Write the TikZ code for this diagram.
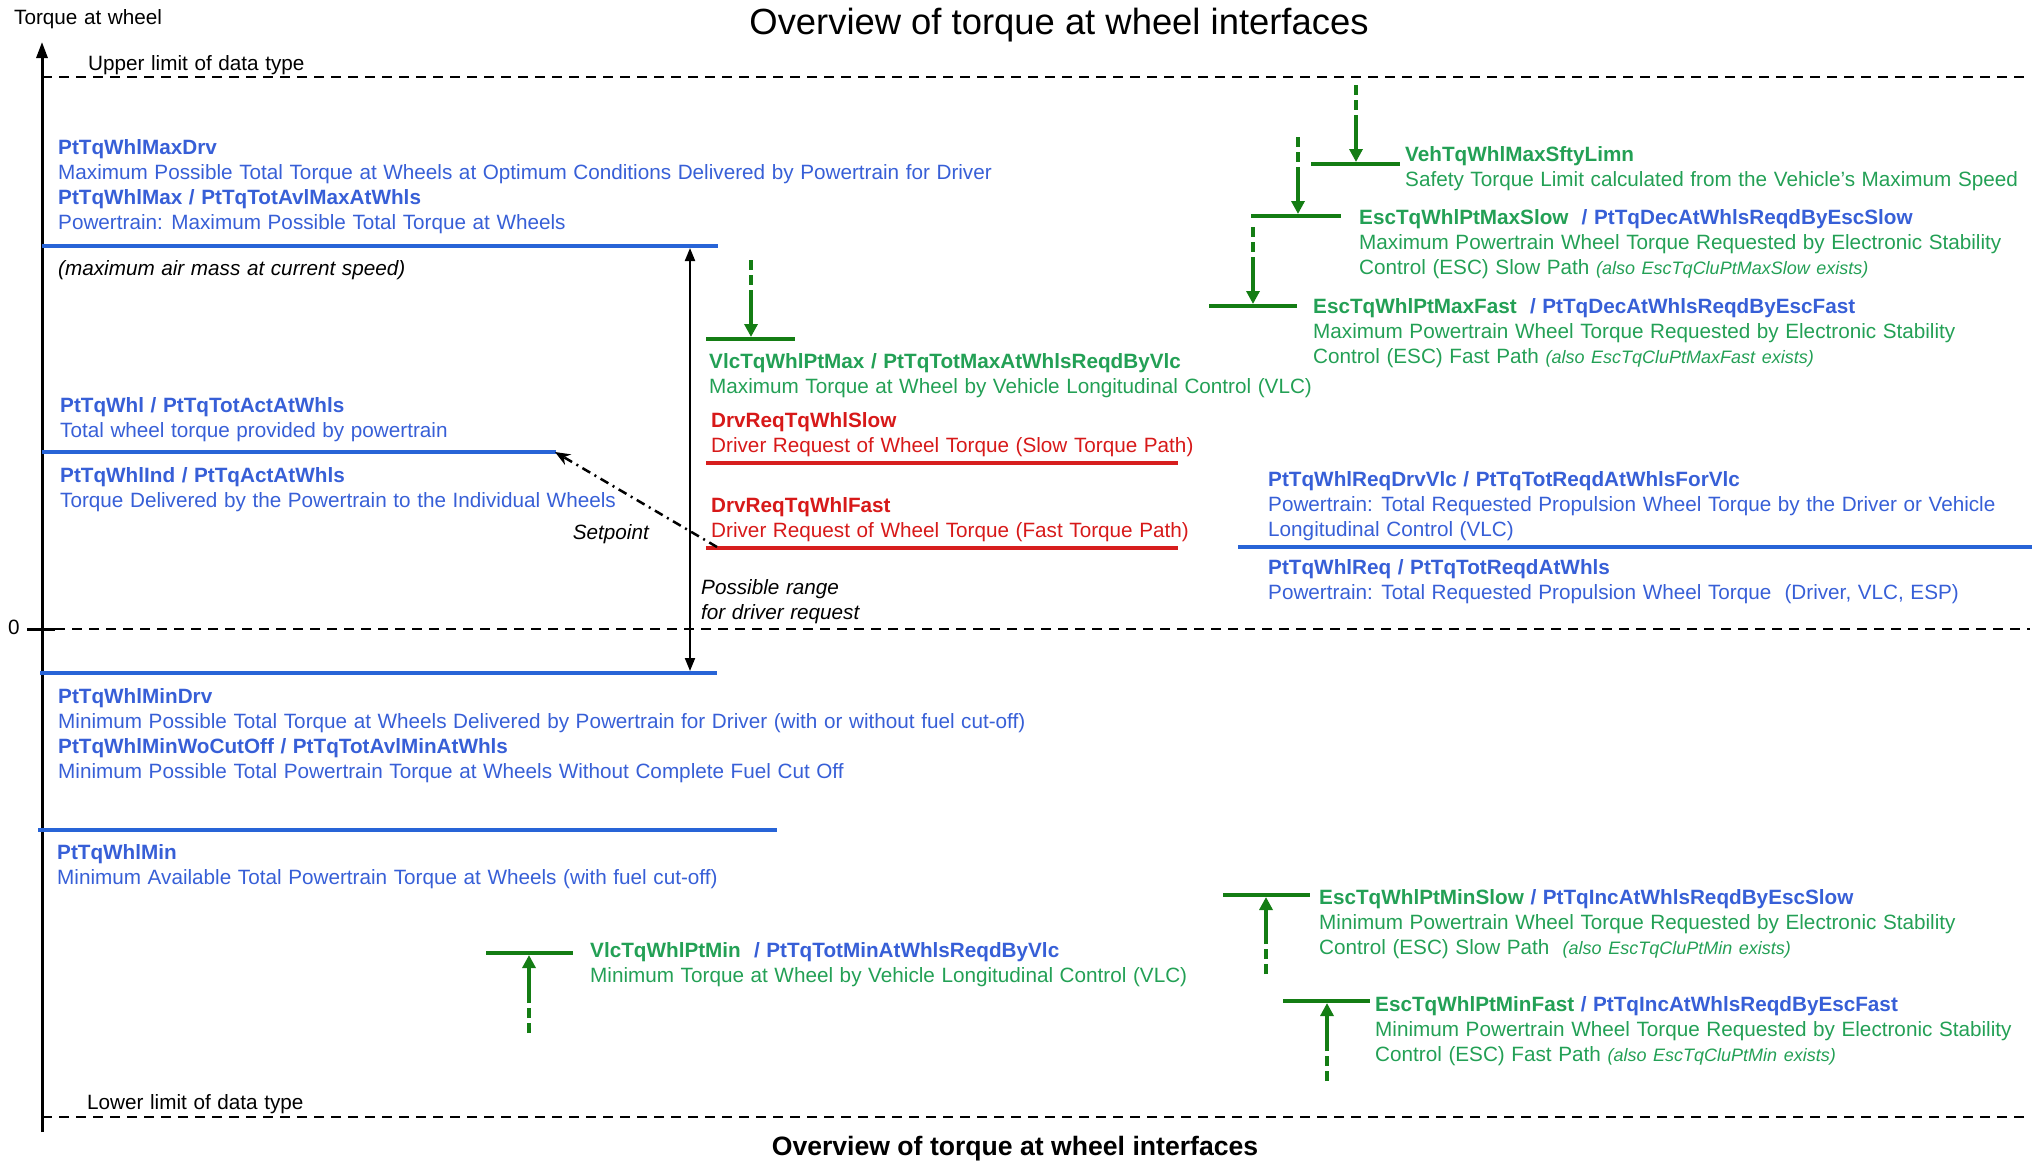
\documentclass[tikz,border=0pt]{standalone}
\usepackage{fontspec}
\setmainfont{Liberation Sans}
\usetikzlibrary{arrows.meta,calc}

\definecolor{bltxt}{RGB}{55,95,215}
\definecolor{blline}{RGB}{40,100,215}
\definecolor{grtxt}{RGB}{35,160,85}
\definecolor{grline}{RGB}{20,125,20}
\definecolor{rdtxt}{RGB}{215,25,25}
\definecolor{rdline}{RGB}{215,30,30}

% label font with slightly open word spacing
\newcommand{\lblfont}{\fontsize{20.7}{25}\selectfont\spaceskip=6.6pt plus 2pt minus 1pt\relax}
\newcommand{\notefont}{\fontsize{18}{25}\selectfont\itshape}

% green limit marker: bar plus dashed/solid arrow
% #1 name, #2 bar left x, #3 bar right x, #4 arrow x, #5 bar y, #6 arrow start y
\newcommand{\tqmarker}[6]{%
  \coordinate (#1-l) at (#2,#5);
  \coordinate (#1-r) at (#3,#5);
  \coordinate (#1-b) at (#4,#5);
  \coordinate (#1-s) at (#4,#6);
  \coordinate (#1-m) at ($(#1-s)!0.4!(#1-b)$);
  \draw[grbar] (#1-l) -- (#1-r);
  \draw[grdash] (#1-s) -- (#1-m);
  \draw[grarrow] (#1-m) -- (#1-b);
}

\begin{document}
\begin{tikzpicture}[x=1pt,y=-1pt,
  lbl/.style={anchor=north west, inner sep=0pt, align=left, font=\lblfont},
  plain/.style={anchor=base west, inner sep=0pt, font=\lblfont},
  limdash/.style={black, line width=2.5pt, dash pattern=on 10pt off 7pt},
  bllevel/.style={blline, line width=4pt},
  rdlevel/.style={rdline, line width=4pt},
  grbar/.style={grline, line width=4pt},
  grdash/.style={grline, line width=3.5pt, dash pattern=on 10pt off 5pt},
  grarrow/.style={grline, line width=3.5pt, shorten >=2pt,
                  -{Triangle[length=13pt,width=13pt]}},
]
\useasboundingbox (0,0) rectangle (2042,1162);

% ---------- titles and axis ----------
\node[anchor=base, inner sep=0pt, font=\fontsize{36.4}{40}\selectfont] (title) at (1059,34)
  {Overview of torque at wheel interfaces};
\node[anchor=base, inner sep=0pt, font=\fontsize{26.6}{30}\selectfont\bfseries] (caption) at (1015,1155)
  {Overview of torque at wheel interfaces};
\node[plain] (ylabel) at (14,24) {Torque at wheel};
\node[plain] (zero) at (8,634) {0};

\coordinate (axB) at (42,1132);
\coordinate (axT) at (42,42);
\draw[line width=3pt, -{Triangle[length=16pt,width=11pt]}] (axB) -- (axT);

% data type limits and zero line
\node[plain] (upper) at (88,70) {Upper limit of data type};
\node[plain] (lower) at (87,1109) {Lower limit of data type};
\coordinate (upL) at (42,77);   \coordinate (upR) at (2030,77);
\coordinate (loL) at (42,1117); \coordinate (loR) at (2030,1117);
\coordinate (zT1) at (27,629);  \coordinate (zT2) at (55,629); \coordinate (zR) at (2030,629);
\draw[limdash] (upL) -- (upR);
\draw[limdash] (loL) -- (loR);
\draw[black, line width=3pt] (zT1) -- (zT2);
\draw[limdash] (zT2) -- (zR);

% ---------- powertrain levels (blue) ----------
\coordinate (maxL) at (42,246);  \coordinate (maxR) at (718,246);
\coordinate (actL) at (42,452);  \coordinate (actR) at (556,452);
\coordinate (mdrL) at (40,673);  \coordinate (mdrR) at (717,673);
\coordinate (minL) at (38,830);  \coordinate (minR) at (777,830);
\coordinate (reqL) at (1238,547); \coordinate (reqR) at (2032,547);
\draw[bllevel] (maxL) -- (maxR);
\draw[bllevel] (actL) -- (actR);
\draw[bllevel] (mdrL) -- (mdrR);
\draw[bllevel] (minL) -- (minR);
\draw[bllevel] (reqL) -- (reqR);

\node[lbl, text=bltxt] (maxdrv) at (58,139.5)
  {\textbf{PtTqWhlMaxDrv}\\
   Maximum Possible Total Torque at Wheels at Optimum Conditions Delivered by Powertrain for Driver\\
   \textbf{PtTqWhlMax / PtTqTotAvlMaxAtWhls}\\
   Powertrain: Maximum Possible Total Torque at Wheels};
\node[lbl, font=\lblfont\itshape] (airmass) at (58,260.5)
  {(maximum air mass at current speed)};

\node[lbl, text=bltxt] (whl) at (60,397.5)
  {\textbf{PtTqWhl / PtTqTotActAtWhls}\\
   Total wheel torque provided by powertrain};
\node[lbl, text=bltxt] (whlind) at (60,467.5)
  {\textbf{PtTqWhlInd / PtTqActAtWhls}\\
   Torque Delivered by the Powertrain to the Individual Wheels};

\node[lbl, text=bltxt] (mindrv) at (58,688.5)
  {\textbf{PtTqWhlMinDrv}\\
   Minimum Possible Total Torque at Wheels Delivered by Powertrain for Driver (with or without fuel cut-off)\\
   \textbf{PtTqWhlMinWoCutOff / PtTqTotAvlMinAtWhls}\\
   Minimum Possible Total Powertrain Torque at Wheels Without Complete Fuel Cut Off};
\node[lbl, text=bltxt] (minwhl) at (57,844.5)
  {\textbf{PtTqWhlMin}\\
   Minimum Available Total Powertrain Torque at Wheels (with fuel cut-off)};

\node[lbl, text=bltxt] (reqdrv) at (1268,471.5)
  {\textbf{PtTqWhlReqDrvVlc / PtTqTotReqdAtWhlsForVlc}\\
   Powertrain: Total Requested Propulsion Wheel Torque by the Driver or Vehicle\\
   Longitudinal Control (VLC)};
\node[lbl, text=bltxt] (req) at (1268,559.5)
  {\textbf{PtTqWhlReq / PtTqTotReqdAtWhls}\\
   Powertrain: Total Requested Propulsion Wheel Torque \ (Driver, VLC, ESP)};

% ---------- driver requests (red) ----------
\coordinate (slwL) at (706,463); \coordinate (slwR) at (1178,463);
\coordinate (fstL) at (706,548); \coordinate (fstR) at (1178,548);
\draw[rdlevel] (slwL) -- (slwR);
\draw[rdlevel] (fstL) -- (fstR);
\node[lbl, text=rdtxt] (slow) at (711,412.5)
  {\textbf{DrvReqTqWhlSlow}\\
   Driver Request of Wheel Torque (Slow Torque Path)};
\node[lbl, text=rdtxt] (fast) at (711,497.5)
  {\textbf{DrvReqTqWhlFast}\\
   Driver Request of Wheel Torque (Fast Torque Path)};

% setpoint from the fast request to the actual torque
\coordinate (spS) at (717,547);
\coordinate (spE) at (555,452);
\draw[black, line width=2.5pt, dash pattern=on 9pt off 5pt on 2pt off 5pt,
      -{Stealth[length=15pt,width=12pt]}] (spS) -- (spE);
\node[anchor=base east, inner sep=0pt, font=\lblfont\itshape] (setpoint) at (649,539) {Setpoint};

% possible range of the driver request
\coordinate (rngT) at (690,248);
\coordinate (rngB) at (690,671);
\draw[black, line width=2pt, {Triangle[length=13pt,width=10pt]}-{Triangle[length=13pt,width=10pt]}] (rngT) -- (rngB);
\node[lbl, font=\lblfont\itshape] (range) at (701,579.5)
  {Possible range\\for driver request};

% ---------- external limits (green) ----------
\tqmarker{veh}{1311}{1400}{1356}{164}{85}
\tqmarker{escmaxs}{1251}{1341}{1298}{216}{137}
\tqmarker{escmaxf}{1209}{1297}{1253}{306}{227}
\tqmarker{vlcmax}{706}{795}{751}{339}{260}
\tqmarker{vlcmin}{486}{573}{529}{953}{1033}
\tqmarker{escmins}{1223}{1310}{1266}{895}{974}
\tqmarker{escminf}{1283}{1370}{1327}{1001}{1081}

\node[lbl, text=grtxt] (vehtxt) at (1405,146.5)
  {\textbf{VehTqWhlMaxSftyLimn}\\
   Safety Torque Limit calculated from the Vehicle's Maximum Speed};
\node[lbl, text=grtxt] (escmaxstxt) at (1359,209.5)
  {\textbf{EscTqWhlPtMaxSlow \ \textcolor{bltxt}{/ PtTqDecAtWhlsReqdByEscSlow}}\\
   Maximum Powertrain Wheel Torque Requested by Electronic Stability\\
   Control (ESC) Slow Path {\notefont (also EscTqCluPtMaxSlow exists)}};
\node[lbl, text=grtxt] (escmaxftxt) at (1313,298.5)
  {\textbf{EscTqWhlPtMaxFast \ \textcolor{bltxt}{/ PtTqDecAtWhlsReqdByEscFast}}\\
   Maximum Powertrain Wheel Torque Requested by Electronic Stability\\
   Control (ESC) Fast Path {\notefont (also EscTqCluPtMaxFast exists)}};
\node[lbl, text=grtxt] (vlcmaxtxt) at (709,353.5)
  {\textbf{VlcTqWhlPtMax / PtTqTotMaxAtWhlsReqdByVlc}\\
   Maximum Torque at Wheel by Vehicle Longitudinal Control (VLC)};
\node[lbl, text=grtxt] (vlcmintxt) at (590,942.5)
  {\textbf{VlcTqWhlPtMin \ \textcolor{bltxt}{/ PtTqTotMinAtWhlsReqdByVlc}}\\
   Minimum Torque at Wheel by Vehicle Longitudinal Control (VLC)};
\node[lbl, text=grtxt] (escminstxt) at (1319,889.5)
  {\textbf{EscTqWhlPtMinSlow \textcolor{bltxt}{/ PtTqIncAtWhlsReqdByEscSlow}}\\
   Minimum Powertrain Wheel Torque Requested by Electronic Stability\\
   Control (ESC) Slow Path \ {\notefont (also EscTqCluPtMin exists)}};
\node[lbl, text=grtxt] (escminftxt) at (1375,996.5)
  {\textbf{EscTqWhlPtMinFast \textcolor{bltxt}{/ PtTqIncAtWhlsReqdByEscFast}}\\
   Minimum Powertrain Wheel Torque Requested by Electronic Stability\\
   Control (ESC) Fast Path {\notefont (also EscTqCluPtMin exists)}};

\end{tikzpicture}
\end{document}
